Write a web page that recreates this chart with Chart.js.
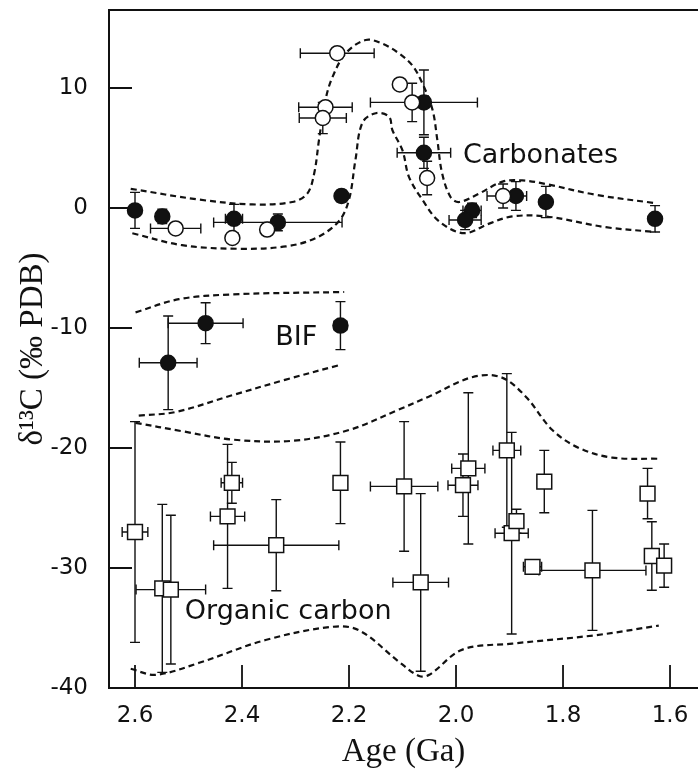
<!DOCTYPE html>
<html>
<head>
    <title>Carbon isotope excursion</title>
    <script src="https://cdn.jsdelivr.net/npm/chart.js"></script>
    <style>
        body {
            margin: 0;
            background: #fff;
            overflow: hidden;
        }
        #wrap {
            width: 698px;
            height: 769px;
        }
        canvas {
            display: block;
        }
    </style>
</head>
<body>
<div id="wrap"><canvas id="chart" width="698" height="769"></canvas></div>

<script>
    // rows: [age (Ga), d13C (permil), age error, d13C error]
    const carbFilled = [
        [2.600, -0.2, 0, 1.5],
        [2.549, -0.7, 0, 0.6],
        [2.415, -0.9, 0.016, 1.2],
        [2.333, -1.2, 0.12, 0.7],
        [2.214, 1.0, 0, 0.5],
        [2.060, 8.8, 0.10, 2.7],
        [2.060, 4.6, 0.05, 1.3],
        [1.970, -0.2, 0.017, 0.6],
        [1.983, -1.0, 0.03, 0.8],
        [1.888, 1.0, 0.02, 1.2],
        [1.832, 0.5, 0, 1.3],
        [1.628, -0.9, 0, 1.1]
    ];
    const carbOpen = [
        [2.524, -1.7, 0.047, 0],
        [2.418, -2.5, 0, 0],
        [2.353, -1.8, 0, 0],
        [2.222, 12.9, 0.069, 0],
        [2.244, 8.4, 0.05, 0],
        [2.249, 7.5, 0.044, 1.3],
        [2.105, 10.3, 0, 0],
        [2.082, 8.8, 0, 1.6],
        [2.054, 2.5, 0, 1.4],
        [1.912, 1.0, 0.03, 1.0]
    ];
    const bifPoints = [
        [2.538, -12.9, 0.054, 3.9],
        [2.468, -9.6, 0.07, 1.7],
        [2.216, -9.8, 0.012, 2.0]
    ];
    const organicPoints = [
        [2.600, -27.0, 0.024, 9.2],
        [2.549, -31.7, 0.01, 7.0],
        [2.533, -31.8, 0.065, 6.2],
        [2.419, -22.9, 0.02, 1.7],
        [2.427, -25.7, 0.032, 6.0],
        [2.336, -28.1, 0.117, 3.8],
        [2.216, -22.9, 0.012, 3.4],
        [2.097, -23.2, 0.063, 5.4],
        [2.066, -31.2, 0.052, 7.4],
        [1.977, -21.7, 0.031, 6.3],
        [1.987, -23.1, 0.028, 2.6],
        [1.905, -20.2, 0.026, 6.4],
        [1.896, -27.1, 0.031, 8.4],
        [1.887, -26.1, 0.01, 1.0],
        [1.835, -22.8, 0, 2.6],
        [1.857, -29.9, 0.017, 0],
        [1.745, -30.2, 0.1, 5.0],
        [1.642, -23.8, 0, 2.1],
        [1.634, -29.0, 0, 2.85],
        [1.611, -29.8, 0, 1.8]
    ];

    // dashed envelopes, [age, d13C]
    const carbUpper = [[2.608, 1.6], [2.48, 0.7], [2.381, 0.3], [2.306, 0.5], [2.278, 1.2], [2.265, 2.9],
        [2.256, 5.7], [2.244, 9.0], [2.231, 10.9], [2.206, 12.9], [2.169, 14.0], [2.138, 13.7],
        [2.107, 12.9], [2.082, 11.9], [2.063, 10.4], [2.044, 8.2], [2.035, 5.7], [2.026, 2.9],
        [2.010, 0.9], [1.994, 0.5], [1.957, 1.2], [1.913, 2.2], [1.876, 2.3], [1.832, 2.0],
        [1.739, 1.1], [1.627, 0.4]];
    const carbLower = [[2.605, -2.1], [2.512, -3.1], [2.406, -3.4], [2.318, -3.2], [2.262, -2.5],
        [2.219, -1.1], [2.200, 0.7], [2.188, 4.0], [2.175, 7.1], [2.150, 7.9], [2.125, 7.6],
        [2.119, 6.5], [2.100, 4.8], [2.088, 2.6], [2.063, 0.7], [2.032, -1.1], [1.985, -2.1],
        [1.938, -1.3], [1.895, -0.7], [1.832, -0.7], [1.720, -1.6], [1.627, -2.0]];
    const bifUpper = [[2.599, -8.7], [2.518, -7.6], [2.418, -7.2], [2.209, -7.0]];
    const bifLower = [[2.593, -17.3], [2.524, -17.0], [2.418, -15.6], [2.318, -14.3], [2.219, -13.1]];
    const orgUpper = [[2.599, -17.9], [2.512, -18.6], [2.418, -19.3], [2.306, -19.4], [2.200, -18.5],
        [2.107, -16.8], [2.050, -15.7], [1.970, -14.1], [1.916, -14.1], [1.870, -15.7],
        [1.820, -18.5], [1.770, -20.0], [1.708, -20.8], [1.621, -20.9]];
    const orgLower = [[2.608, -38.4], [2.561, -38.9], [2.480, -37.9], [2.356, -36.0], [2.231, -34.9],
        [2.181, -35.2], [2.107, -37.8], [2.069, -39.0], [2.050, -38.9], [1.988, -36.8],
        [1.895, -36.3], [1.739, -35.6], [1.621, -34.8]];

    const xTicks = [2.6, 2.4, 2.2, 2.0, 1.8, 1.6];
    const yTicks = [10, 0, -10, -20, -30, -40];

    // [text, age, d13C]
    const fieldLabels = [
        ["Carbonates", 1.987, 4.3],
        ["BIF", 2.338, -10.8],
        ["Organic carbon", 2.507, -33.7]
    ];

    const ink = "#111";
    const toPts = rows => rows.map(r => ({x: r[0], y: r[1]}));

    function markerSet(rows, style, fill, radius) {
        return {
            data: toPts(rows),
            errs: rows.map(r => [r[2], r[3]]),
            showLine: false,
            pointStyle: style,
            pointRadius: radius,
            pointBackgroundColor: fill,
            pointBorderColor: ink,
            pointBorderWidth: 1.5
        };
    }

    function envelope(rows) {
        return {
            data: toPts(rows),
            showLine: true,
            pointRadius: 0,
            borderColor: ink,
            borderWidth: 2.2,
            borderDash: [6, 4],
            tension: 0.35,
            fill: false
        };
    }

    const errorBars = {
        id: "errorBars",
        beforeDatasetsDraw(chart) {
            const ctx = chart.ctx;
            const xs = chart.scales.x, ys = chart.scales.y;
            ctx.save();
            ctx.strokeStyle = ink;
            ctx.lineWidth = 1.4;
            chart.data.datasets.forEach(ds => {
                if (!ds.errs) return;
                ds.data.forEach((p, i) => {
                    const [xe, ye] = ds.errs[i];
                    const px = xs.getPixelForValue(p.x), py = ys.getPixelForValue(p.y);
                    ctx.beginPath();
                    if (xe > 0) {
                        const a = xs.getPixelForValue(p.x - xe), b = xs.getPixelForValue(p.x + xe);
                        ctx.moveTo(a, py); ctx.lineTo(b, py);
                        ctx.moveTo(a, py - 5); ctx.lineTo(a, py + 5);
                        ctx.moveTo(b, py - 5); ctx.lineTo(b, py + 5);
                    }
                    if (ye > 0) {
                        const a = ys.getPixelForValue(p.y - ye), b = ys.getPixelForValue(p.y + ye);
                        ctx.moveTo(px, a); ctx.lineTo(px, b);
                        ctx.moveTo(px - 5, a); ctx.lineTo(px + 5, a);
                        ctx.moveTo(px - 5, b); ctx.lineTo(px + 5, b);
                    }
                    ctx.stroke();
                });
            });
            ctx.restore();
        }
    };

    const frame = {
        id: "frame",
        afterDraw(chart) {
            const ctx = chart.ctx;
            const {left, right, top, bottom} = chart.chartArea;
            const xs = chart.scales.x, ys = chart.scales.y;
            ctx.save();
            ctx.strokeStyle = ink;
            ctx.lineWidth = 2;
            ctx.beginPath();
            ctx.moveTo(right + 2, top); ctx.lineTo(left, top); ctx.lineTo(left, bottom); ctx.lineTo(right + 2, bottom);
            ctx.stroke();
            ctx.lineWidth = 1.8;
            ctx.beginPath();
            yTicks.forEach(v => {
                const py = ys.getPixelForValue(v);
                ctx.moveTo(left, py); ctx.lineTo(left + 23, py);
            });
            xTicks.forEach(v => {
                const px = xs.getPixelForValue(v);
                ctx.moveTo(px, bottom); ctx.lineTo(px, bottom - 23);
            });
            ctx.stroke();

            ctx.fillStyle = ink;
            ctx.font = "27px 'DejaVu Sans'";
            ctx.textAlign = "left";
            ctx.textBaseline = "middle";
            fieldLabels.forEach(([t, a, d]) => {
                ctx.fillText(t, xs.getPixelForValue(a), ys.getPixelForValue(d));
            });
            ctx.restore();
        }
    };

    new Chart(document.getElementById("chart"), {
        type: "scatter",
        data: {
            datasets: [
                markerSet(carbOpen, "circle", "#fff", 7.5),
                markerSet(carbFilled, "circle", ink, 7.5),
                markerSet(bifPoints, "circle", ink, 7.5),
                markerSet(organicPoints, "rect", "#fff", 10.5),
                envelope(carbUpper),
                envelope(carbLower),
                envelope(bifUpper),
                envelope(bifLower),
                envelope(orgUpper),
                envelope(orgLower)
            ]
        },
        options: {
            responsive: false,
            animation: false,
            devicePixelRatio: 1,
            layout: {autoPadding: false, padding: {top: 10, right: 0, left: 0, bottom: 0}},
            plugins: {
                legend: {display: false},
                tooltip: {enabled: false}
            },
            scales: {
                x: {
                    type: "linear",
                    reverse: true,
                    min: 1.5477,
                    max: 2.6486,
                    afterBuildTicks: s => { s.ticks = xTicks.map(v => ({value: v})); },
                    afterFit: s => {
                        s.height = 81;
                        s.paddingLeft = 0;
                        s.paddingRight = 0;
                    },
                    grid: {display: false},
                    border: {display: false},
                    ticks: {
                        color: ink,
                        padding: 6,
                        maxRotation: 0,
                        autoSkip: false,
                        font: {family: "DejaVu Sans", size: 23},
                        callback: v => v.toFixed(1)
                    },
                    title: {
                        display: true,
                        text: "Age (Ga)",
                        color: ink,
                        padding: {top: 0, bottom: 0},
                        font: {family: "Liberation Serif", size: 33, lineHeight: 1}
                    }
                },
                y: {
                    min: -40,
                    max: 16.5,
                    afterBuildTicks: s => { s.ticks = yTicks.map(v => ({value: v})); },
                    afterFit: s => {
                        s.width = 109;
                        s.paddingTop = 0;
                        s.paddingBottom = 0;
                    },
                    grid: {display: false},
                    border: {display: false},
                    ticks: {
                        color: ink,
                        padding: 13,
                        autoSkip: false,
                        font: {family: "DejaVu Sans", size: 23},
                        callback: v => String(v)
                    },
                    title: {
                        display: true,
                        text: "δ¹³C (‰ PDB)",
                        color: ink,
                        padding: {top: 17, bottom: 0},
                        font: {family: "Liberation Serif", size: 33, lineHeight: 1}
                    }
                }
            }
        },
        plugins: [errorBars, frame]
    });
</script>
</body>
</html>
